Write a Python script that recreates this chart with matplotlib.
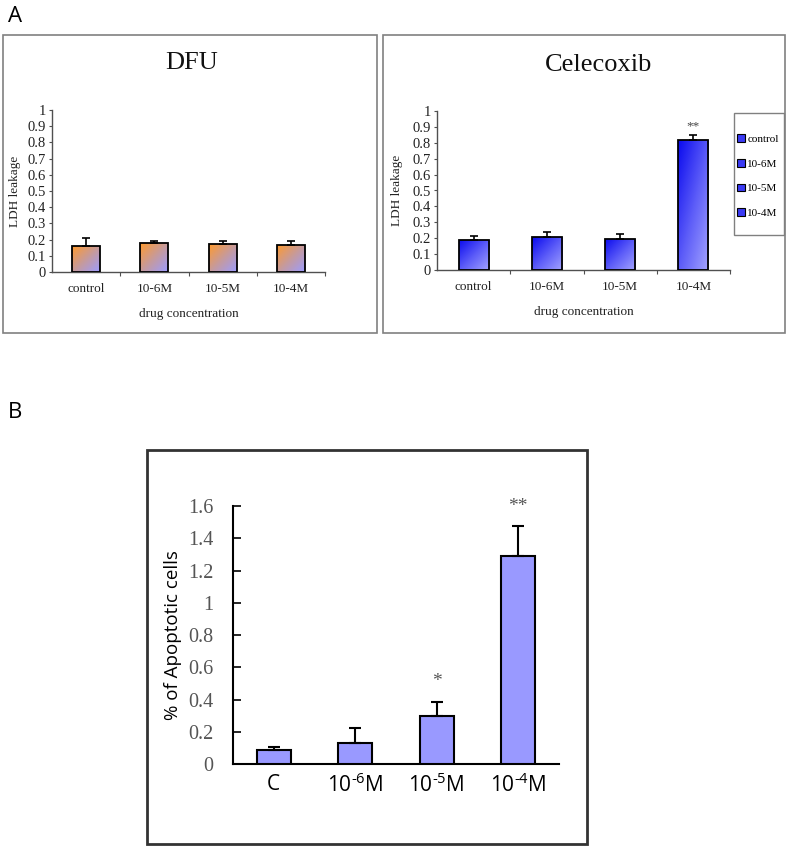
import numpy as np
import matplotlib
matplotlib.use("Agg")
import matplotlib.pyplot as plt
from matplotlib.patches import Rectangle, Patch
from matplotlib.colors import LinearSegmentedColormap

plt.rcParams['mathtext.fontset'] = 'custom'
plt.rcParams['mathtext.rm'] = 'Open Sans'
plt.rcParams['mathtext.it'] = 'Open Sans:italic'

# ---------------- data ----------------
cats_a = ["control", "10-6M", "10-5M", "10-4M"]
dfu_vals = [0.160, 0.176, 0.171, 0.167]
dfu_err = [0.048, 0.016, 0.022, 0.026]
cel_vals = [0.189, 0.205, 0.195, 0.815]
cel_err = [0.027, 0.031, 0.031, 0.032]
cel_sig = ["", "", "", "**"]
a_yticks = [0, 0.1, 0.2, 0.3, 0.4, 0.5, 0.6, 0.7, 0.8, 0.9, 1]
a_ylabels = ["0", "0.1", "0.2", "0.3", "0.4", "0.5", "0.6", "0.7", "0.8", "0.9", "1"]

cats_b = ["C", "10$^{\\mathrm{\u20106}}$M", "10$^{\\mathrm{\u20105}}$M", "10$^{\\mathrm{\u20104}}$M"]
apo_vals = [0.087, 0.133, 0.298, 1.292]
apo_err = [0.020, 0.089, 0.088, 0.182]
apo_sig = ["", "", "*", "**"]
b_yticks = [0, 0.2, 0.4, 0.6, 0.8, 1.0, 1.2, 1.4, 1.6]
b_ylabels = ["0", "0.2", "0.4", "0.6", "0.8", "1", "1.2", "1.4", "1.6"]

W, H = 789, 847
fig = plt.figure(figsize=(W / 100, H / 100), dpi=100)

def fr(x0, y0, x1, y1):
    return [x0 / W, 1 - y1 / H, (x1 - x0) / W, (y1 - y0) / H]

def box(x0, y0, x1, y1, color, lw):
    fig.patches.append(Rectangle((x0 / W, 1 - y1 / H), (x1 - x0) / W, (y1 - y0) / H,
                                 transform=fig.transFigure, fill=False,
                                 edgecolor=color, linewidth=lw))

SERIF = "Liberation Serif"
SANS = "Open Sans"

n = 64
u = np.linspace(0, 1, n)
GX, GY = np.meshgrid(u, u)
G = (GX + (1 - GY)) / 2

def grad_bars(ax, x, vals, width, cmap):
    bars = ax.bar(x, vals, width, facecolor='none', edgecolor='black', linewidth=1.3, zorder=3)
    for b in bars:
        x0, y0, w, h = b.get_x(), b.get_y(), b.get_width(), b.get_height()
        im = ax.imshow(G, extent=[x0, x0 + w, y0, y0 + h], origin='lower', cmap=cmap,
                       aspect='auto', zorder=2, interpolation='bilinear')
        im.set_clip_path(b)
    return bars

cmap_dfu = LinearSegmentedColormap.from_list("dfu", ["#ff9a2e", "#c79a9a", "#9c9cff"])
cmap_cel = LinearSegmentedColormap.from_list("cel", ["#0a0aee", "#5a5af8", "#a4a4ff"])

def panel_a(rect, vals, errs, cmap, title, title_x, sig=None):
    ax = fig.add_axes(rect)
    x = np.arange(len(cats_a))
    grad_bars(ax, x, vals, 0.41, cmap)
    ax.errorbar(x, vals, yerr=[np.zeros(len(vals)), errs], fmt='none', ecolor='black',
                elinewidth=1.2, capsize=3, capthick=1.2, zorder=4)
    if sig:
        for xi, v, e, s in zip(x, vals, errs, sig):
            if s:
                ax.text(xi, v + e + 0.02, s, ha='center', va='bottom', fontsize=9.5,
                        family=SERIF, color='#444444')
    ax.set_xlim(-0.5, 3.5)
    ax.set_ylim(0, 1)
    for s in ['top', 'right']:
        ax.spines[s].set_visible(False)
    for s in ['left', 'bottom']:
        ax.spines[s].set_color('#505050')
        ax.spines[s].set_linewidth(1.0)
    ax.set_yticks(a_yticks)
    ax.set_yticklabels(a_ylabels, family=SERIF, fontsize=10.5, color='#222222')
    ax.tick_params(axis='y', direction='out', length=2.5, color='#505050', pad=2)
    ax.set_xticks([0.5, 1.5, 2.5, 3.5])
    ax.set_xticklabels([])
    ax.tick_params(axis='x', which='major', direction='out', length=3, color='#505050')
    ax.set_xticks(x, minor=True)
    ax.set_xticklabels(cats_a, minor=True, family=SERIF, fontsize=9.5, color='#222222')
    ax.tick_params(axis='x', which='minor', length=0, pad=8)
    ax.set_xlabel("drug concentration", family=SERIF, fontsize=9.5, color='#222222', labelpad=9)
    ax.set_ylabel("LDH leakage", family=SERIF, fontsize=9.5, color='#222222')
    ax.yaxis.set_label_coords(-0.115, 0.5)
    ax.text(title_x, 1.29, title, transform=ax.transAxes, ha='center', va='center',
            fontsize=19, family=SERIF, color='#111111')
    return ax

# Panel A boxes and label
box(3, 35, 377, 333, '#808080', 1.2)
box(383, 35, 785, 333, '#808080', 1.2)
fig.text(8 / W, 1 - 16 / H, "A", fontsize=16, family=SANS, va='center', ha='left')

axL = panel_a(fr(52, 110, 325, 272), dfu_vals, dfu_err, cmap_dfu, "DFU", 0.51)
axR = panel_a(fr(437, 111, 730, 270), cel_vals, cel_err, cmap_cel, "Celecoxib", 0.55, cel_sig)

# legend (frame drawn separately so that vertical padding can differ from horizontal)
box(734, 113, 784, 235, '#808080', 1.0)
handles = [Patch(facecolor='#3a3af4', edgecolor='black', linewidth=0.8) for _ in cats_a]
fig.legend(handles, cats_a, loc='center left', bbox_to_anchor=(735 / W, 1 - 176 / H),
           frameon=False, prop={'family': SERIF, 'size': 8}, handlelength=0.7,
           handleheight=0.7, labelspacing=1.35, borderpad=0.2, handletextpad=0.2,
           borderaxespad=0)

# Panel B
box(147, 450, 587, 844, '#333333', 2.0)
fig.text(8 / W, 1 - 413 / H, "B", fontsize=16, family=SANS, va='center', ha='left')

axB = fig.add_axes(fr(233, 506, 559, 764))
xb = np.arange(len(cats_b))
axB.bar(xb, apo_vals, 0.42, color='#9999ff', edgecolor='black', linewidth=1.5, zorder=3)
axB.errorbar(xb, apo_vals, yerr=[np.zeros(len(apo_vals)), apo_err], fmt='none',
             ecolor='black', elinewidth=1.5, capsize=4, capthick=1.5, zorder=4)
for xi, v, e, s in zip(xb, apo_vals, apo_err, apo_sig):
    if s:
        axB.text(xi, v + e + 0.07, s, ha='center', va='bottom', fontsize=14,
                 family=SERIF, color='#555555')
axB.set_xlim(-0.5, 3.5)
axB.set_ylim(0, 1.6)
for s in ['top', 'right']:
    axB.spines[s].set_visible(False)
for s in ['left', 'bottom']:
    axB.spines[s].set_color('black')
    axB.spines[s].set_linewidth(1.5)
axB.set_yticks(b_yticks)
axB.set_yticklabels(b_ylabels, family=SERIF, fontsize=14.5, color='#555555')
axB.tick_params(axis='y', direction='in', length=6, width=1.2, pad=14)
axB.set_xticks(xb)
axB.set_xticklabels(cats_b, family=SANS, fontsize=15)
axB.tick_params(axis='x', length=0, pad=7)
axB.set_ylabel("% of Apoptotic cells", family=SANS, fontsize=13.5)
axB.yaxis.set_label_coords(-0.155, 0.5)

fig.savefig("out.png", dpi=100)
